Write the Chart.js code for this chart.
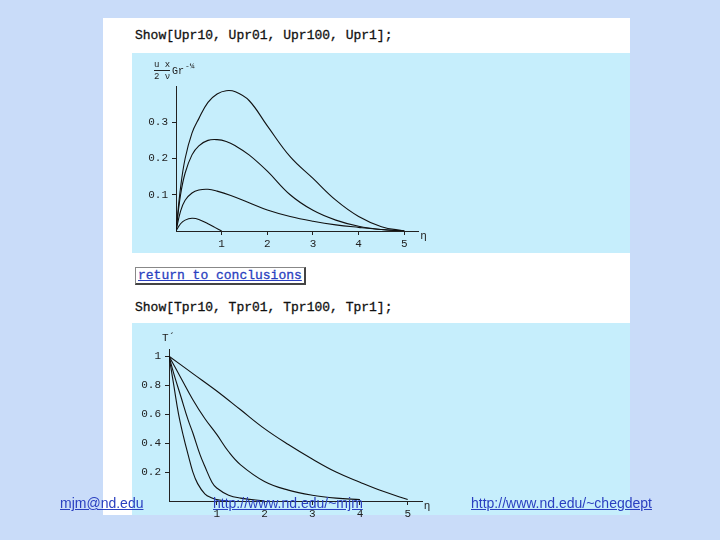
<!DOCTYPE html>
<html><head><meta charset="utf-8">
<script src="https://cdn.jsdelivr.net/npm/chart.js@4"></script>
<style>
body{margin:0;width:720px;height:540px;background:#c9dcf9;position:relative;overflow:hidden;font-family:"Liberation Mono",monospace}
.abs{position:absolute}
.cmd{font-size:13px;color:#111;-webkit-text-stroke:0.3px #111}
.plotbg{background:#c6eefc}
.lnk{font-family:"Liberation Sans",Arial,sans-serif;font-size:14px;color:#2a3fc0;text-decoration:underline}
</style></head><body>
<div class="abs" style="left:103px;top:18px;width:527px;height:497px;background:#fff"></div>
<div class="abs cmd" style="left:135px;top:28px">Show[Upr10, Upr01, Upr100, Upr1];</div>
<div class="abs plotbg" style="left:132px;top:53px;width:498px;height:200px"></div>
<div class="abs cmd" style="left:135px;top:267px;border:1px solid #888;border-right:2px solid #444;border-bottom:2px solid #444;padding:0 2px;color:#2a3fc0;-webkit-text-stroke:0.3px #2a3fc0;text-decoration:underline">return to conclusions</div>
<div class="abs cmd" style="left:135px;top:300px">Show[Tpr10, Tpr01, Tpr100, Tpr1];</div>
<div class="abs plotbg" style="left:132px;top:323px;width:498px;height:192px"></div>
<div class="abs" style="left:132px;top:53px;width:498px;height:200px"><canvas id="cu"></canvas></div>
<div class="abs" style="left:132px;top:323px;width:498px;height:200px"><canvas id="ct"></canvas></div>
<div class="abs lnk" style="left:60px;top:495px">mjm@nd.edu</div>
<div class="abs lnk" style="left:213px;top:495px">http://www.nd.edu/~mjm</div>
<div class="abs lnk" style="left:471px;top:495px">http://www.nd.edu/~chegdept</div>
<script>
//Velocidade (Upr)
const uEta = [0, 0.1, 0.2, 0.35, 0.5, 0.7, 0.9, 1.1, 1.3, 1.6, 2, 2.5, 3, 3.5, 4, 4.5, 5];
const uPr1 = [0, 0.12, 0.2, 0.27, 0.31, 0.355, 0.378, 0.387, 0.384, 0.36, 0.29, 0.205, 0.145, 0.085, 0.04, 0.012, 0];
const uPr2 = [0, 0.1, 0.16, 0.21, 0.235, 0.25, 0.252, 0.247, 0.235, 0.21, 0.165, 0.1, 0.057, 0.03, 0.013, 0.004, 0];
const uEta3 = [0, 0.1, 0.2, 0.35, 0.5, 0.7, 0.9, 1.2, 1.6, 2, 2.5, 3, 3.5, 4, 4.5, 5];
const uPr3 = [0, 0.055, 0.085, 0.105, 0.113, 0.115, 0.11, 0.098, 0.078, 0.058, 0.04, 0.027, 0.017, 0.01, 0.004, 0];
const uEta4 = [0, 0.1, 0.2, 0.35, 0.5, 0.7, 0.85, 1.0];
const uPr4 = [0, 0.02, 0.03, 0.035, 0.032, 0.02, 0.01, 0];
//Temperatura (Tpr)
const tEta1 = [0, 0.5, 1, 1.5, 2, 2.5, 3, 3.5, 4, 4.5, 5];
const tPr1 = [1, 0.88, 0.76, 0.63, 0.5, 0.39, 0.29, 0.2, 0.13, 0.065, 0.01];
const tEta2 = [0, 0.25, 0.5, 0.75, 1, 1.25, 1.5, 2, 2.5, 3, 3.5, 4];
const tPr2 = [1, 0.85, 0.7, 0.57, 0.46, 0.34, 0.25, 0.135, 0.075, 0.04, 0.02, 0.01];
const tEta3 = [0, 0.1, 0.25, 0.4, 0.5, 0.65, 0.75, 0.9, 1, 1.25, 1.5, 2];
const tPr3 = [1, 0.88, 0.72, 0.56, 0.47, 0.32, 0.24, 0.13, 0.09, 0.04, 0.02, 0];
const tEta4 = [0, 0.05, 0.1, 0.2, 0.3, 0.4, 0.5, 0.6, 0.75, 0.9, 1.0, 1.2];
const tPr4 = [1, 0.9, 0.8, 0.6, 0.45, 0.32, 0.2, 0.12, 0.05, 0.02, 0.01, 0];

const xTicks = [1, 2, 3, 4, 5];
const uTicks = [0.1, 0.2, 0.3];
const tTicks = [0.2, 0.4, 0.6, 0.8, 1];

const pts = (xs, ys) => xs.map((x, i) => ({ x, y: ys[i] }));
const font = { family: 'Liberation Mono', size: 11 };

//Rótulos dos eixos no estilo Mathematica
const axisLabels = {
  id: 'axisLabels',
  afterDraw(chart, args, o) {
    const ctx = chart.ctx, x = chart.scales.x, y = chart.scales.y;
    ctx.save();
    ctx.fillStyle = '#222';
    ctx.font = '11px "Liberation Mono"';
    ctx.fillText('\u03b7', x.getPixelForValue(5) + 16, y.getPixelForValue(0) + 8);
    if (o.kind === 'u') {
      ctx.font = '9px "Liberation Mono"';
      ctx.fillText('u x', 22, 14);
      ctx.fillRect(22, 17, 16, 1);
      ctx.fillText('2 \u03bd', 22, 26);
      ctx.font = '10px "Liberation Mono"';
      ctx.fillText('Gr', 40, 21);
      ctx.font = '8px "Liberation Mono"';
      ctx.fillText('-\u00bc', 53, 15);
    } else {
      ctx.fillText('T\u00b4', 30, 18);
    }
    ctx.restore();
  }
};

function makeChart(id, sets, ticksY, yMax, left, top, right, kind) {
  return new Chart(document.getElementById(id), {
    type: 'line',
    data: {
      datasets: sets.map(d => ({ data: d, borderColor: '#111', borderWidth: 1.1, pointRadius: 0, tension: 0.4, fill: false }))
    },
    plugins: [axisLabels],
    options: {
      animation: false, responsive: true, maintainAspectRatio: false,
      layout: { padding: { top, right, left: 0, bottom: 0 } },
      plugins: { legend: { display: false }, tooltip: { enabled: false }, axisLabels: { kind } },
      scales: {
        x: {
          type: 'linear', min: 0, max: 5.3,
          afterFit: s => { s.height = 22; },
          afterBuildTicks: s => { s.ticks = xTicks.map(v => ({ value: v })); },
          grid: { drawOnChartArea: false, tickLength: 4, color: '#222' },
          border: { color: '#222' },
          ticks: { color: '#222', font, padding: 2 }
        },
        y: {
          type: 'linear', min: 0, max: yMax,
          afterFit: s => { s.width = left; },
          afterBuildTicks: s => { s.ticks = ticksY.map(v => ({ value: v })); },
          grid: { drawOnChartArea: false, tickLength: 4, color: '#222' },
          border: { color: '#222' },
          ticks: { color: '#222', font, padding: 4, callback: v => String(v) }
        }
      }
    }
  });
}

makeChart('cu', [pts(uEta, uPr1), pts(uEta, uPr2), pts(uEta3, uPr3), pts(uEta4, uPr4)],
  uTicks, 0.4, 44, 33, 212, 'u');
makeChart('ct', [pts(tEta1, tPr1), pts(tEta2, tPr2), pts(tEta3, tPr3), pts(tEta4, tPr4)],
  tTicks, 1.05, 37, 26, 208, 't');
</script>
</body></html>
